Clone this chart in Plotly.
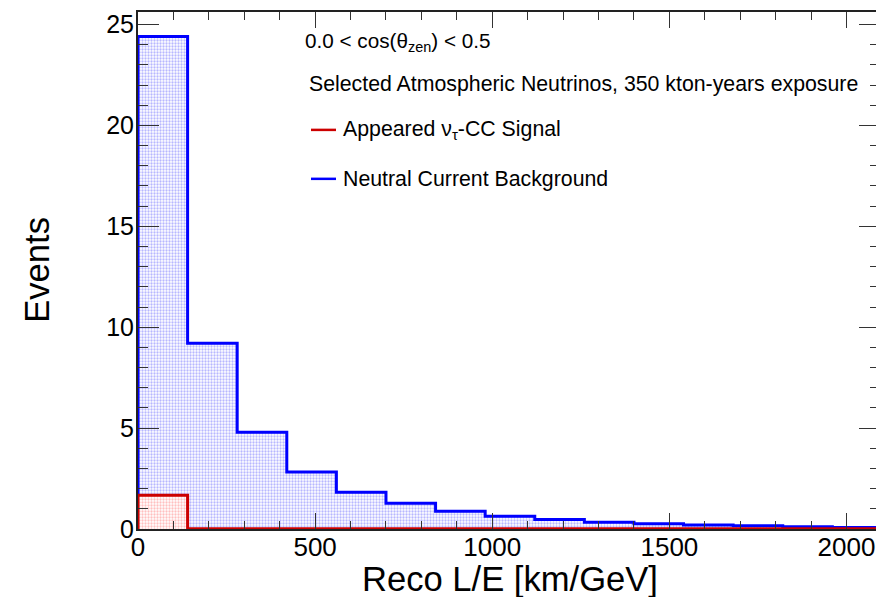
import numpy as np
import plotly.graph_objects as go

# ---- data ----
bin_width = 140.0
n_bins = 15
nc_background = [24.4, 9.2, 4.8, 2.82, 1.82, 1.27, 0.88, 0.63, 0.47, 0.34,
                 0.26, 0.20, 0.16, 0.11, 0.08]
tau_signal = [1.67, 0.01, 0.01, 0.01, 0.01, 0.01, 0.01, 0.01, 0.01, 0.01,
              0.01, 0.01, 0.01, 0.01, 0.01]
x_ticks = [0, 500, 1000, 1500, 2000]
y_ticks = [0, 5, 10, 15, 20, 25]

edges = list(np.arange(n_bins + 1) * bin_width)

def step_xy(vals):
    xs = [edges[0]] + edges
    ys = [0.0] + list(vals) + [0.0]
    return xs, ys

W, H = 876, 597
L, T, B = 138, 12, 67.5
PW, PH = W - L, H - T - B
FONT = "Liberation Sans, Arial, Helvetica, sans-serif"

px_per_unit = (846.0 - 137.5) / 2000.0
x_max = (W - L) / px_per_unit
y_max = max(nc_background) * 1.05

fig = go.Figure()
bx, by = step_xy(nc_background)
fig.add_trace(go.Scatter(
    x=bx, y=by, mode="lines", line=dict(color="#0000ff", width=3, shape="hv"),
    fill="tozeroy", fillcolor="rgba(0,0,0,0)",
    fillpattern=dict(shape=".", fgcolor="#7070ff", bgcolor="white", size=3, solidity=0.45),
    showlegend=False, hoverinfo="skip"))
sx, sy = step_xy(tau_signal)
fig.add_trace(go.Scatter(
    x=sx, y=sy, mode="lines", line=dict(color="#cc0000", width=3, shape="hv"),
    fill="tozeroy", fillcolor="rgba(0,0,0,0)",
    fillpattern=dict(shape=".", fgcolor="#ff8080", bgcolor="white", size=3, solidity=0.45),
    showlegend=False, hoverinfo="skip"))

fig.update_layout(
    width=W, height=H, autosize=False,
    margin=dict(l=L, r=0, t=T, b=B, pad=0),
    paper_bgcolor="white", plot_bgcolor="white",
    font=dict(family=FONT, color="black"),
    showlegend=False,
    xaxis=dict(range=[0, x_max], showgrid=False, zeroline=False,
               showline=True, linecolor="#222", linewidth=2, mirror="ticks",
               ticks="inside", ticklen=16, tickwidth=1.2, tickcolor="#333",
               tickvals=x_ticks, ticktext=[str(v) for v in x_ticks],
               tickfont=dict(size=26, family=FONT, color="black"),
               minor=dict(dtick=100, tick0=0, ticks="inside", ticklen=8, tickwidth=1.2, tickcolor="#333"),
               ticklabelstandoff=-6),
    yaxis=dict(range=[0, y_max], showgrid=False, zeroline=False,
               showline=True, linecolor="#222", linewidth=2,
               ticks="inside", ticklen=21, tickwidth=1.2, tickcolor="#333",
               tickvals=y_ticks, ticktext=[str(v) for v in y_ticks],
               tickfont=dict(size=25, family=FONT, color="black"),
               minor=dict(dtick=1, tick0=0, ticks="inside", ticklen=10, tickwidth=1.2, tickcolor="#333"),
               ticklabelstandoff=-3),
    yaxis2=dict(range=[0, y_max], overlaying="y", side="right", showgrid=False,
                zeroline=False, showline=False, showticklabels=False,
                ticks="inside", ticklen=17, tickwidth=1.2, tickcolor="#333",
                tickvals=y_ticks,
                minor=dict(dtick=1, tick0=0, ticks="inside", ticklen=6, tickwidth=1.2, tickcolor="#333")),
)

# invisible trace to anchor right axis
fig.add_trace(go.Scatter(x=[0], y=[0], yaxis="y2", mode="markers",
                         marker=dict(opacity=0), showlegend=False, hoverinfo="skip"))

def px_x(p):
    return (p - L) / PW
def px_y(p):
    return (H - B - p) / PH

ann = []
ann.append(dict(text="Reco L/E [km/GeV]", x=px_x(509.5), y=px_y(580), xref="paper", yref="paper",
                showarrow=False, font=dict(size=34.6, family=FONT), xanchor="center", yanchor="middle"))
ann.append(dict(text="Events", x=px_x(37), y=px_y(270), xref="paper", yref="paper", textangle=-90,
                showarrow=False, font=dict(size=34.6, family=FONT), xanchor="center", yanchor="middle"))
ann.append(dict(text="0.0 < cos(θ<sub>zen</sub>) < 0.5", x=px_x(303), y=px_y(42), xref="paper", yref="paper",
                showarrow=False, font=dict(size=20.7, family=FONT), xanchor="left", yanchor="middle"))
ann.append(dict(text="Selected Atmospheric Neutrinos, 350 kton-years exposure", x=px_x(307), y=px_y(84),
                xref="paper", yref="paper", showarrow=False, font=dict(size=21.3, family=FONT),
                xanchor="left", yanchor="middle"))
legend_items = [("Appeared ν<sub>τ</sub>-CC Signal", "#cc0000", 130),
                ("Neutral Current Background", "#0000ff", 179)]
shapes = []
for text, col, yy in legend_items:
    ann.append(dict(text=text, x=px_x(341), y=px_y(yy), xref="paper", yref="paper",
                    showarrow=False, font=dict(size=21.3, family=FONT), xanchor="left", yanchor="middle"))
    shapes.append(dict(type="line", xref="paper", yref="paper", x0=px_x(311), x1=px_x(336),
                       y0=px_y(yy), y1=px_y(yy), line=dict(color=col, width=2.5)))
fig.update_layout(annotations=ann, shapes=shapes)

fig.write_html("out.html")
